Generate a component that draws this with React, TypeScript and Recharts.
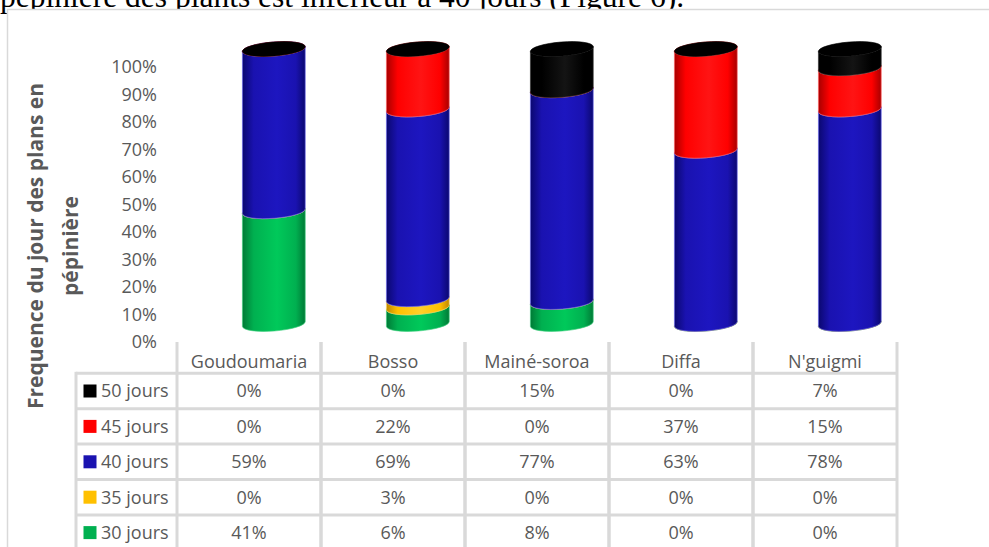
import React from 'react';
import { BarChart, Bar, XAxis, YAxis } from 'recharts';

const categories = ['Goudoumaria', 'Bosso', 'Mainé-soroa', 'Diffa', "N'guigmi"];
const jours30 = [41, 6, 8, 0, 0];
const jours35 = [0, 3, 0, 0, 0];
const jours40 = [59, 69, 77, 63, 78];
const jours45 = [0, 22, 0, 37, 15];
const jours50 = [0, 0, 15, 0, 7];
const yTicks = [0, 10, 20, 30, 40, 50, 60, 70, 80, 90, 100];

type Serie = { key: string; name: string; values: number[]; base: string; light: string; dark: string; edge: string };

// bottom to top, the order Excel stacks them
const series: Serie[] = [
  { key: 'j30', name: '30 jours', values: jours30, base: '#00B050', light: '#00C95A', dark: '#007A36', edge: '#40D080' },
  { key: 'j35', name: '35 jours', values: jours35, base: '#FFC000', light: '#FFD02A', dark: '#C08800', edge: '#FFD860' },
  { key: 'j40', name: '40 jours', values: jours40, base: '#1A12B0', light: '#1D16C0', dark: '#0B0870', edge: '#6A66F0' },
  { key: 'j45', name: '45 jours', values: jours45, base: '#FF0000', light: '#FF1414', dark: '#A80000', edge: '#FF6060' },
  { key: 'j50', name: '50 jours', values: jours50, base: '#000000', light: '#141414', dark: '#000000', edge: '#303030' },
];

const data = categories.map((c, i) => {
  const row: Record<string, string | number> = { name: c };
  for (const s of series) row[s.key] = s.values[i];
  return row;
});

const W = 989;
const H = 547;
const PLOT_LEFT = 177;
const PLOT_RIGHT = 897;
const PLOT_TOP = 67;
const PLOT_BOTTOM = 342;
const COL_W = (PLOT_RIGHT - PLOT_LEFT) / categories.length;
const ROW_H = 35.4;
const HEAD_H = 31.3;
const GRID = '#D9D9D9';
const TXT = '#595959';
const FONT = '"Open Sans", "Noto Sans", sans-serif';

// fake 3D: cylinders sit a little right of and above their category
const DX = 25;
const DY = -18;
const RY = 7;
const TILT = -4.5;

function Cylinder(props: any) {
  const { x, y, width, height, s } = props as { x: number; y: number; width: number; height: number; s: Serie };
  if (x == null || y == null) return null;
  const rx = width / 2;
  const cx = x + width / 2 + DX;
  const yt = y + DY;
  const yb = y + height + DY;
  const t = (TILT * Math.PI) / 180;
  const ox = rx * Math.cos(t);
  const oy = rx * Math.sin(t);
  const face =
    `M${cx - ox},${yb - oy} A${rx},${RY} ${TILT} 0 0 ${cx + ox},${yb + oy} ` +
    `L${cx + ox},${yt + oy} A${rx},${RY} ${TILT} 0 1 ${cx - ox},${yt - oy} Z`;
  return (
    <g>
      {height > 0 && (
        <path d={face} fill={`url(#g-${s.key})`} stroke={s.edge} strokeWidth={0.8} strokeOpacity={0.8} />
      )}
      <ellipse
        cx={cx}
        cy={yt}
        rx={rx}
        ry={RY}
        fill={s.base}
        stroke={s.key === 'j50' ? '#000' : s.edge}
        strokeWidth={0.6}
        transform={`rotate(${TILT} ${cx} ${yt})`}
      />
    </g>
  );
}

const tableRows = [...series].reverse();

function TableColumn(props: any) {
  const { x, y, payload } = props;
  const idx: number = payload.index;
  const left = x - COL_W / 2;
  const right = x + COL_W / 2;
  const bodyTop = y + HEAD_H;
  const bottom = H + 10;
  return (
    <g>
      {idx === 0 && (
        <g>
          <line x1={76} x2={left} y1={bodyTop} y2={bodyTop} stroke={GRID} strokeWidth={3} />
          <line x1={76} x2={76} y1={bodyTop - 1.5} y2={bottom} stroke={GRID} strokeWidth={3} />
          {tableRows.map((s, r) => {
            const cy = bodyTop + ROW_H * r + ROW_H / 2;
            return (
              <g key={s.key}>
                <rect x={83.5} y={cy - 6.5} width={13} height={13} fill={s.base} />
                <text x={101} y={cy} dy="0.36em" fill={TXT} fontSize={18} fontFamily={FONT}>
                  {s.name}
                </text>
              </g>
            );
          })}
          {tableRows.map((s, r) => (
            <line key={s.key} x1={76} x2={left} y1={bodyTop + ROW_H * (r + 1)} y2={bodyTop + ROW_H * (r + 1)} stroke={GRID} strokeWidth={3} />
          ))}
        </g>
      )}
      <line x1={left} x2={left} y1={y} y2={bottom} stroke={GRID} strokeWidth={3} />
      <line x1={right} x2={right} y1={y} y2={bottom} stroke={GRID} strokeWidth={3} />
      {[0, 1, 2, 3, 4, 5].map((r) => (
        <line key={r} x1={left} x2={right} y1={bodyTop + ROW_H * r} y2={bodyTop + ROW_H * r} stroke={GRID} strokeWidth={3} />
      ))}
      <text x={x} y={y + 20} dy="0.36em" textAnchor="middle" fill={TXT} fontSize={18} fontFamily={FONT}>
        {payload.value}
      </text>
      {tableRows.map((s, r) => (
        <text
          key={s.key}
          x={x}
          y={bodyTop + ROW_H * r + ROW_H / 2}
          dy="0.36em"
          textAnchor="middle"
          fill={TXT}
          fontSize={18}
          fontFamily={FONT}
        >
          {`${s.values[idx]}%`}
        </text>
      ))}
    </g>
  );
}

function YTitle() {
  const cy = 246;
  return (
    <g>
      <text x={35} y={cy} transform={`rotate(-90 35 ${cy})`} textAnchor="middle" dy="0.36em" fill={TXT} fontSize={21} fontWeight={700} fontFamily={FONT}>
        Frequence du jour des plans en
      </text>
      <text x={70} y={cy} transform={`rotate(-90 70 ${cy})`} textAnchor="middle" dy="0.36em" fill={TXT} fontSize={21} fontWeight={700} fontFamily={FONT}>
        pépinière
      </text>
    </g>
  );
}

export default function App() {
  return (
    <div style={{ position: 'absolute', left: 0, top: 0, width: W, height: H, background: '#fff', overflow: 'hidden' }}>
      <svg width={W} height={H} style={{ position: 'absolute', left: 0, top: 0 }}>
        {/* tail of the document sentence above the figure, half hidden behind the chart frame */}
        <text x={0} y={7} fontSize={31.5} fontFamily='"Liberation Serif", "Times New Roman", serif' fill="#000">
          pépinière des plants est inférieur à 40 jours (Figure 6).
        </text>
        <rect x={7.5} y={9.5} width={W} height={H} fill="#fff" stroke={GRID} strokeWidth={1.5} />
        <YTitle />
      </svg>
      <div style={{ position: 'absolute', left: 0, top: 0 }}>
        <BarChart
          width={W}
          height={H}
          data={data}
          margin={{ top: PLOT_TOP, right: W - PLOT_RIGHT, bottom: H - PLOT_BOTTOM - 30, left: PLOT_LEFT - 100 }}
          barCategoryGap="28%"
        >
          <defs>
            {series.map((s) => (
              <linearGradient key={s.key} id={`g-${s.key}`} x1="0" y1="0" x2="1" y2="0">
                <stop offset="0%" stopColor={s.dark} />
                <stop offset="18%" stopColor={s.base} />
                <stop offset="55%" stopColor={s.light} />
                <stop offset="85%" stopColor={s.base} />
                <stop offset="100%" stopColor={s.dark} />
              </linearGradient>
            ))}
          </defs>
          <XAxis
            dataKey="name"
            height={30}
            axisLine={false}
            tickLine={false}
            tickSize={0}
            tickMargin={0}
            interval={0}
            tick={(p: any) => <TableColumn {...p} />}
          />
          <YAxis
            width={100}
            domain={[0, 100]}
            ticks={yTicks}
            tickFormatter={(v) => `${v}%`}
            axisLine={false}
            tickLine={false}
            tickSize={0}
            tickMargin={20}
            tick={{ fill: TXT, fontSize: 18, fontFamily: FONT }}
          />
          {series.map((s) => (
            <Bar
              key={s.key}
              dataKey={s.key}
              name={s.name}
              stackId="a"
              fill={s.base}
              isAnimationActive={false}
              shape={(p: any) => <Cylinder {...p} s={s} />}
            />
          ))}
        </BarChart>
      </div>
    </div>
  );
}
